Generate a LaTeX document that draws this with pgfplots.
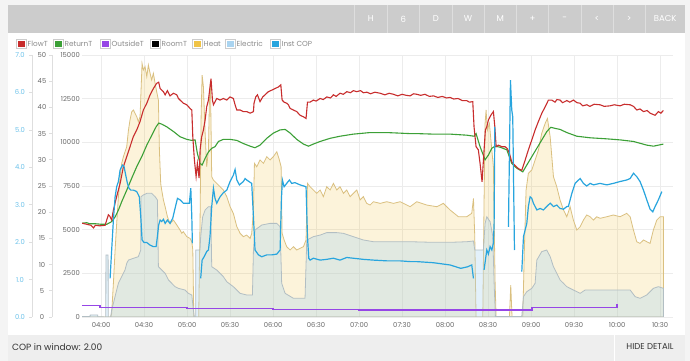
\documentclass[border=0pt]{standalone}
\usepackage{fontspec}
\setmainfont{Poppins}
\usepackage{pgfplots}
\pgfplotsset{compat=1.18}
\definecolor{flowc}{RGB}{200,45,45}
\definecolor{retc}{RGB}{60,160,55}
\definecolor{outc}{RGB}{150,70,230}
\definecolor{heatleg}{RGB}{240,195,70}
\definecolor{heatline}{RGB}{218,192,128}
\definecolor{elecleg}{RGB}{170,212,240}
\definecolor{elecline}{RGB}{178,190,195}
\definecolor{copc}{RGB}{40,165,222}
\definecolor{coptick}{RGB}{110,195,235}
\definecolor{tickc}{RGB}{105,105,105}
\definecolor{gridc}{RGB}{236,236,236}
\definecolor{axc}{RGB}{222,222,222}
\definecolor{bgout}{RGB}{244,244,244}
\definecolor{barc}{RGB}{204,204,204}
\definecolor{barsep}{RGB}{222,222,222}
\definecolor{botc}{RGB}{238,238,238}
\definecolor{legtxt}{RGB}{140,140,140}
\newcommand\tickfont{\fontsize{6.8}{8}\selectfont}
\newcommand\legfont{\fontsize{7.3}{8.5}\selectfont}
\newcommand\legitem[3]{%
  \draw[black!20, fill=white, line width=0.5pt] (#1,312.5) rectangle (#1+10,321.5);
  \fill[#2] (#1+1.5,314) rectangle (#1+8.5,320);
  \node[anchor=west, inner sep=0pt, text=legtxt, font=\legfont] at (#1+11.5,317) {#3};}
\pgfplotsset{base/.style={scale only axis, width=591pt, height=262pt,
  at={(82pt,44pt)}, anchor=south west, xmin=-13.3, xmax=399, ymin=0,
  major tick length=0pt, axis line style={draw=none}, tick style={draw=none},
  scaled y ticks=false, scaled x ticks=false, clip=true}}
\begin{document}
\begin{tikzpicture}
\begin{scope}[x=1pt,y=1pt]
\fill[bgout] (0,0) rectangle (690,361);
\useasboundingbox (0,0) rectangle (690,361);
\fill[white] (8,26) rectangle (685,328);
\fill[barc] (8,328) rectangle (685,356);
\foreach \s in {354.5,387,419.5,452,484,516.5,548.5,581,613,645.5}
  \draw[barsep, line width=0.8pt] (\s,328) -- (\s,356);
\foreach \lab/\p in {H/370.75,6/403.25,D/435.75,W/468,M/500.25,+/532.5,-/564.75,</597,>/629.25,BACK/665.25}
  \node[text=white, font=\fontsize{8.5}{10}\selectfont, inner sep=0pt] at (\p,342) {\lab};
\fill[botc] (8,0) rectangle (685,26);
\draw[white, line width=0.8pt] (614,0) -- (614,26);
\node[anchor=west, inner sep=0pt, text=black!80, font=\fontsize{9}{10}\selectfont] at (12,14) {COP in window: 2.00};
\node[inner sep=0pt, text=black!80, font=\fontsize{8.5}{10}\selectfont] at (650,14) {HIDE DETAIL};
% legend
\legitem{16}{flowc}{FlowT}
\legitem{53}{retc}{ReturnT}
\legitem{100}{outc}{OutsideT}
\legitem{150}{black}{RoomT}
\legitem{192}{heatleg}{Heat}
\legitem{225}{elecleg}{Electric}
\legitem{270}{copc}{Inst COP}
% left axis lines
\draw[axc, line width=0.6pt] (32,44) -- (32,306);
\foreach \k in {0,...,7} \draw[axc, line width=0.6pt] (29,{44+\k*262/7}) -- (32,{44+\k*262/7});
\draw[axc, line width=0.6pt] (52,44) -- (52,306);
\foreach \k in {0,...,10} \draw[axc, line width=0.6pt] (49,{44+\k*26.2}) -- (52,{44+\k*26.2});
\end{scope}

% ---------- power axis ----------
\begin{axis}[base, ymax=15000,
  xtick={0,30,...,390},
  xticklabels={04:00,04:30,05:00,05:30,06:00,06:30,07:00,07:30,08:00,08:30,09:00,09:30,10:00,10:30},
  ytick={0,2500,5000,7500,10000,12500,15000},
  yticklabels={0,2500,5000,7500,10000,12500,15000},
  grid=major, major grid style={gridc, line width=0.6pt},
  xticklabel style={font=\tickfont, text=tickc, anchor=center, yshift=-8pt},
  yticklabel style={font=\tickfont, text=tickc, anchor=east, inner sep=0pt, xshift=-2pt}]
% Heat
\addplot[draw=heatline, line width=0.8pt, fill=heatleg, fill opacity=0.2, draw opacity=1] coordinates {
(-13.3,0) (6.7,0) (7.4,210) (8.6,1930) (9.8,3835) (10.9,5360) (12.1,6890) (13.3,8030) (14.4,8800) (15.6,9180) (16.7,9460) (17.9,9750) (19.1,10700) (20.2,11280) (21.4,11750) (22.6,11850) (23.7,11660) (24.9,11470) (26.0,11180) (27.2,11470) (27.9,12990) (28.6,14520) (29.5,14140) (30.7,14330) (31.9,13760) (33.0,14425) (34.2,13950) (35.3,13570) (36.5,13950) (37.7,13375) (38.8,12900) (40.0,12420) (40.7,9560) (41.6,7650) (42.3,7270) (43.5,6700) (44.7,6315) (46.3,5740) (48.1,5360) (50.5,5550) (52.8,5270) (55.1,4980) (56.3,4790) (57.4,4885) (59.8,4600) (62.1,4500) (63.3,4310) (64.0,3835) (64.7,0) (68.1,0) (69.1,5740) (69.8,11470) (70.5,13850) (71.4,13185) (72.6,10510) (73.7,8600) (74.9,9560) (75.6,12420) (76.3,13375) (77.2,8030) (78.4,7840) (80.7,7650) (83.0,7460) (85.3,7270) (87.7,6890) (90.0,6315) (92.3,5930) (94.7,5170) (97.0,4790) (99.3,4600) (101.6,4690) (104.0,4500) (105.1,4790) (106.3,6125) (107.0,8800) (108.6,8600) (110.9,8990) (113.3,8800) (115.6,9180) (117.9,8990) (120.2,9180) (122.6,9460) (124.4,8990) (125.6,8600) (126.3,4790) (127.7,4410) (129.5,4025) (131.9,3835) (134.2,4025) (136.5,3835) (138.8,3930) (141.2,4025) (143.0,4410) (144.0,7650) (145.8,7460) (148.1,7270) (150.5,7080) (152.8,7270) (155.1,6890) (157.4,7460) (159.8,7270) (162.1,7650) (164.4,7270) (166.7,7460) (169.1,7080) (171.4,7270) (173.7,6890) (176.0,7080) (178.4,7270) (180.7,6700) (183.0,6890) (185.3,6505) (187.7,6410) (190.0,6600) (194.7,6505) (199.3,6600) (204.0,6505) (208.6,6600) (215.6,6315) (220.2,6600) (227.2,6410) (234.2,6315) (238.8,6505) (243.5,6125) (249.3,5740) (255.1,5740) (258.6,5935) (259.8,6790) (260.7,4600) (261.6,0) (266.3,0) (267.2,6700) (267.9,11085) (268.6,11850) (269.5,10700) (270.9,11085) (272.6,9560) (273.7,8600) (274.9,1930) (275.6,0) (284.9,0) (285.8,1830) (286.7,0) (294.2,0) (295.3,3835) (296.5,7270) (298.1,8225) (300.5,8415) (302.8,8990) (305.1,9560) (307.4,10510) (309.8,11085) (311.4,11370) (313.3,10320) (315.6,8030) (317.9,7460) (320.2,6700) (322.6,6125) (324.9,5740) (327.2,6315) (329.5,5550) (331.9,4980) (334.2,5170) (336.5,5550) (338.8,5840) (341.2,5740) (343.5,5550) (345.8,5740) (348.1,5650) (352.8,5740) (357.4,5840) (362.1,5740) (366.7,5935) (369.1,5740) (371.4,4980) (373.7,4310) (376.0,4215) (378.4,4410) (380.7,4310) (383.0,4215) (385.3,4980) (387.7,5550) (390.0,5740) (392.3,5740)
} \closedcycle;
% Electric
\addplot[draw=elecline, line width=0.8pt, fill=elecleg, fill opacity=0.32, draw opacity=1] coordinates {
(-13.3,20) (-7.7,20) (-7.6,115) (-2.4,115) (-2.3,20) (3.3,0) (3.4,3550) (4.9,3550) (5.0,0) (6.7,0) (7.4,400) (8.6,780) (10.9,1545) (12.1,1930) (14.4,2310) (16.7,2690) (17.9,3070) (19.1,3260) (22.6,3360) (26.0,3455) (27.7,3835) (27.9,6890) (29.5,6985) (31.9,7080) (35.3,7080) (37.7,6890) (39.3,6700) (40.0,2880) (42.3,2690) (44.7,2500) (47.0,2120) (49.3,1930) (51.6,1735) (54.0,1640) (58.6,1545) (60.9,1355) (63.3,1260) (64.4,400) (65.1,0) (66.0,0) (66.1,3835) (67.9,3835) (69.0,3835) (69.5,4600) (70.9,5740) (72.6,6125) (74.9,6315) (76.5,6315) (77.2,2880) (80.7,2690) (83.0,2500) (85.3,2310) (87.7,2020) (92.3,1735) (97.0,1355) (101.6,1260) (105.6,1260) (106.3,3835) (107.4,4980) (112.1,5265) (117.9,5360) (122.6,5360) (124.9,5170) (126.0,1930) (128.4,1355) (134.2,1070) (142.3,1070) (143.5,4410) (145.8,4500) (148.1,4600) (152.8,4690) (157.4,4830) (164.4,4830) (169.1,4790) (176.0,4600) (183.0,4410) (190.0,4310) (215.6,4310) (231.9,4275) (243.5,4275) (255.1,4310) (259.8,4350) (260.7,3835) (266.7,3835) (267.9,5360) (269.1,5740) (271.4,5455) (273.3,4600) (274.2,1930) (275.1,30) (293.5,30) (294.7,1165) (297.0,1450) (300.5,1640) (302.8,1930) (304.0,3260) (307.4,3740) (310.9,3835) (313.3,3455) (315.6,2880) (317.9,2500) (320.2,2120) (322.6,1930) (324.9,1735) (329.5,1545) (334.2,1355) (337.7,1545) (369.1,1545) (372.6,1165) (376.0,1070) (380.7,1260) (385.3,1640) (388.8,1735) (392.3,1640)
} \closedcycle;
\end{axis}

% ---------- temperature axis ----------
\begin{axis}[base, ymax=50, xtick=\empty, xticklabels={},
  ytick={0,5,...,50}, yticklabels={0,5,10,15,20,25,30,35,40,45,50},
  yticklabel style={font=\tickfont, text=tickc, anchor=center, xshift=-40pt}]
\addplot[outc, line width=1.4pt] coordinates {
(-13.3,2.16) (-0.8,2.16) (-0.8,1.78) (60,1.78) (60,1.59) (120,1.59) (120,1.45) (180,1.45) (180,1.36) (240,1.36) (240,1.30) (300.5,1.30) (300.5,1.78) (360,1.78) (360,2.48)};
\addplot[retc, line width=1.1pt] coordinates {
(-13.3,17.9) (-10,18.0) (-8,17.8) (-4,17.8) (0,17.7) (4,17.7) (7.4,18.2) (9.8,19.1) (12.1,20.4) (14.4,22.0) (17.9,24.2) (21.4,26.5) (24.9,28.7) (28.4,30.6) (31.9,32.8) (35.4,34.7) (38.4,36.3) (40.2,37.0) (42.4,36.8) (45.8,36.3) (50.5,35.4) (55.1,34.4) (59.8,33.9) (63.3,33.7) (65.6,33.8) (67.2,31.2) (69.1,29.3) (70.5,29.0) (72.6,30.3) (74.9,31.5) (77.2,32.2) (79.5,32.5) (81.9,33.5) (85.3,33.9) (90,33.9) (94.7,33.7) (99.3,33.1) (104,32.6) (107.4,32.3) (110.9,32.8) (115.6,34.1) (120.2,35.1) (124.9,35.7) (128.4,35.8) (131.9,35.1) (136.5,33.9) (141.2,33.0) (144.7,32.6) (148.1,33.0) (152.8,33.5) (159.8,34.1) (166.7,34.5) (176,34.9) (187.7,35.2) (199.3,35.2) (215.6,35.0) (220.3,35.0) (231.9,34.9) (243.5,34.9) (255.1,34.7) (260.2,34.5) (261.6,35.0) (264.4,32.5) (267.9,30.0) (270.2,30.9) (272.6,32.2) (274.9,32.6) (278.4,32.4) (283.1,31.9) (286.5,29.3) (290,28.4) (294.2,27.7) (297,29.0) (300.5,30.6) (304,32.2) (307.5,33.8) (311,35.4) (313.7,36.2) (316.7,36.0) (320.2,35.8) (324.9,35.2) (331.9,34.5) (341.2,34.2) (352.8,34.0) (362.1,33.8) (371.4,33.5) (380.7,32.8) (385.4,32.6) (392.3,33.0)};
\addplot[flowc, line width=1.1pt] coordinates {
(-13.3,17.9) (-10,17.7) (-7,17.5) (-5.3,17.0) (-4,17.5) (-1,17.4) (2.8,17.5) (5.1,19.5) (6.2,19.2) (7.4,18.5) (8.6,20.4) (10.9,23.0) (13.3,25.5) (15.6,28.7) (17.9,30.6) (20.2,32.5) (22.5,34.4) (24.9,35.7) (27.2,37.3) (29.5,39.5) (31.9,40.8) (34.2,42.4) (36.5,43.6) (38.8,44.6) (40.2,44.8) (41.2,43.6) (43.5,43.0) (44.7,42.4) (46.3,43.2) (48.1,42.2) (50.5,42.7) (52.8,42.4) (54,41.7) (55.1,41.4) (57.4,40.8) (59.8,40.5) (62.1,39.8) (63.3,39.5) (64,34.4) (65.1,30.0) (66.3,26.8) (67.2,29.3) (68.4,26.5) (69.1,31.9) (70.2,34.4) (71.4,35.7) (72.6,37.6) (73.7,40.1) (74.9,41.4) (76,43.9) (76.7,45.5) (77.7,41.4) (78.4,40.5) (80.7,41.7) (83,41.4) (85.3,41.7) (87.7,41.4) (90,42.0) (92.3,41.7) (93.5,40.5) (94.7,39.5) (97,39.5) (99.3,39.2) (101.6,39.2) (104,38.9) (106.3,39.2) (106.7,40.8) (107.9,42.0) (109.1,42.4) (110.9,41.1) (112.8,42.0) (114.4,42.4) (116.7,43.0) (119.1,43.3) (121.4,43.6) (123.7,43.9) (125.4,44.3) (126.3,41.4) (127.7,41.0) (129.5,40.8) (130.7,40.5) (131.9,39.8) (134.2,39.5) (136.5,39.2) (138.8,38.5) (141.2,38.2) (143,37.9) (144,41.0) (145.8,41.0) (148.1,41.4) (150,41.2) (152.8,41.7) (155,41.5) (157.5,42.0) (160,41.8) (162.1,42.4) (164,42.1) (166.7,42.7) (169,42.5) (171.4,43.0) (174,42.8) (176,43.2) (178.4,43.0) (181,43.2) (183,42.8) (185.4,42.9) (188,42.6) (191,42.9) (194.7,42.7) (198,42.4) (201,42.7) (204,42.5) (207,42.2) (210,42.5) (213,42.3) (215.6,42.2) (218,42.6) (220.3,42.5) (223,42.3) (226,42.5) (229,42.1) (231.9,42.2) (235,41.9) (238,42.1) (241,41.8) (243.5,41.9) (246,41.6) (249,41.7) (252,41.3) (255.1,41.3) (257,41.0) (259.3,41.1) (260.2,36.3) (261.6,32.5) (263.2,31.9) (264.4,29.3) (265.8,25.8) (267.2,31.9) (268.1,35.7) (269.1,36.3) (270.2,37.6) (271.9,38.5) (273.7,39.2) (274.7,36.3) (275.6,32.5) (277.2,32.8) (279.6,32.5) (281.9,32.5) (283.5,32.1) (284.9,31.2) (286.5,29.6) (288.8,28.9) (291.2,28.3) (293.5,28.0) (295.8,29.9) (298.1,31.9) (300.5,33.8) (302.8,35.7) (305.1,37.3) (307.5,38.9) (309.8,40.1) (312.1,41.4) (314.4,41.4) (316.7,41.0) (318,41.5) (320.2,41.4) (322,40.9) (324.9,41.3) (327,41.0) (329.5,41.4) (332,40.9) (334.2,40.8) (336,40.3) (338.9,40.5) (341,40.2) (344,40.6) (348.1,40.5) (351,40.2) (355.1,40.3) (358,40.5) (362.1,40.3) (365,40.6) (369.1,40.5) (371.4,40.2) (373.8,39.5) (376,39.7) (378.4,39.2) (381,39.4) (383,38.9) (386.5,38.5) (388.8,39.2) (390.5,38.9) (392.3,39.4)};
\end{axis}

% ---------- COP axis ----------
\begin{axis}[base, ymax=7, xtick=\empty, xticklabels={},
  ytick={0,1,2,3,4,5,6,7}, yticklabels={0.0,1.0,2.0,3.0,4.0,5.0,6.0,7.0},
  yticklabel style={font=\tickfont, text=coptick, anchor=center, xshift=-62pt}]
\addplot[copc, line width=1.2pt] coordinates {
(6.3,1.03) (7.4,1.79) (8.6,2.59) (9.8,3.21) (10.9,3.48) (12.1,3.62) (13.3,3.93) (14.9,4.06) (16.0,4.02) (17.2,3.79) (18.4,3.57) (19.5,3.44) (20.7,3.39) (22.6,3.39) (24.9,3.35) (26.7,3.21) (27.7,2.68) (28.6,2.06) (30.0,1.99) (31.9,1.99) (34.2,1.92) (36.5,1.88) (38.4,1.88) (39.3,2.15) (40.2,2.46) (41.2,2.59) (42.3,2.55) (43.5,2.61) (44.7,2.50) (46.3,2.59) (48.1,2.50) (50.0,2.64) (51.6,2.90) (53.3,3.17) (55.1,3.13) (57.4,3.04) (61.6,3.04) (62.6,3.44) (63.3,2.68) (63.7,1.97)};
\addplot[copc, line width=1.2pt] coordinates {
(69.5,1.03) (70.5,1.52) (71.9,1.61) (73.7,1.75) (74.9,1.79) (76.0,2.15) (77.2,2.95) (78.4,3.44) (79.5,3.17) (80.7,3.04) (81.9,3.13) (83.0,3.21) (85.3,3.32) (87.7,3.39) (90.0,3.62) (92.3,3.79) (93.5,3.94) (94.7,3.66) (96.5,3.53) (99.3,3.62) (100.5,3.70) (101.6,3.66) (105.1,3.57) (106.3,2.68) (107.4,1.79) (109.8,1.66) (112.1,1.61) (115.6,1.66) (119.1,1.66) (122.6,1.68) (124.9,1.79) (125.8,3.13) (126.5,3.66) (127.7,3.48) (129.5,3.57) (131.4,3.66) (133.0,3.57) (135.3,3.59) (138.8,3.53) (143.0,3.48) (144.0,2.15) (144.9,1.57) (145.8,1.52) (148.1,1.57) (152.8,1.52) (157.4,1.54) (162.1,1.57) (166.7,1.52) (171.4,1.59) (176.0,1.57) (183.0,1.54) (190.0,1.52) (199.3,1.50) (208.6,1.50) (215.6,1.48) (220.2,1.48) (231.9,1.45) (243.5,1.39) (250.9,1.30) (255.6,1.34) (258.6,1.39) (259.8,1.03)};
\addplot[copc, line width=1.2pt] coordinates {
(267.2,1.26) (269.1,1.79) (270.2,1.68) (271.4,1.88) (272.6,1.79) (273.7,1.97) (274.2,2.50) (274.7,5.08)};
\addplot[copc, line width=1.2pt] coordinates {
(284.2,2.41) (285.6,6.33) (286.5,5.53) (287.2,5.35) (288.4,1.79)};
\addplot[copc, line width=1.2pt] coordinates {
(293.5,1.21) (294.7,2.15) (295.8,2.32) (297.0,2.50) (298.1,2.95) (299.3,3.21) (300.5,3.17) (301.6,3.04) (304.0,2.86) (306.3,2.90) (308.6,2.86) (310.9,2.95) (313.3,3.04) (315.6,2.95) (317.9,2.99) (320.2,2.90) (322.6,2.88) (324.9,2.95) (326.0,2.95) (328.4,3.30) (330.7,3.57) (334.2,3.70) (336.5,3.57) (338.8,3.50) (341.2,3.57) (343.5,3.53) (348.1,3.57) (352.8,3.53) (357.4,3.57) (362.1,3.62) (366.7,3.66) (369.1,3.70) (371.4,3.84) (373.7,3.75) (376.0,3.62) (378.4,3.39) (380.7,3.13) (383.0,2.88) (384.9,2.81) (386.5,2.95) (388.8,3.13) (391.2,3.35)};
\end{axis}
\end{tikzpicture}
\end{document}
